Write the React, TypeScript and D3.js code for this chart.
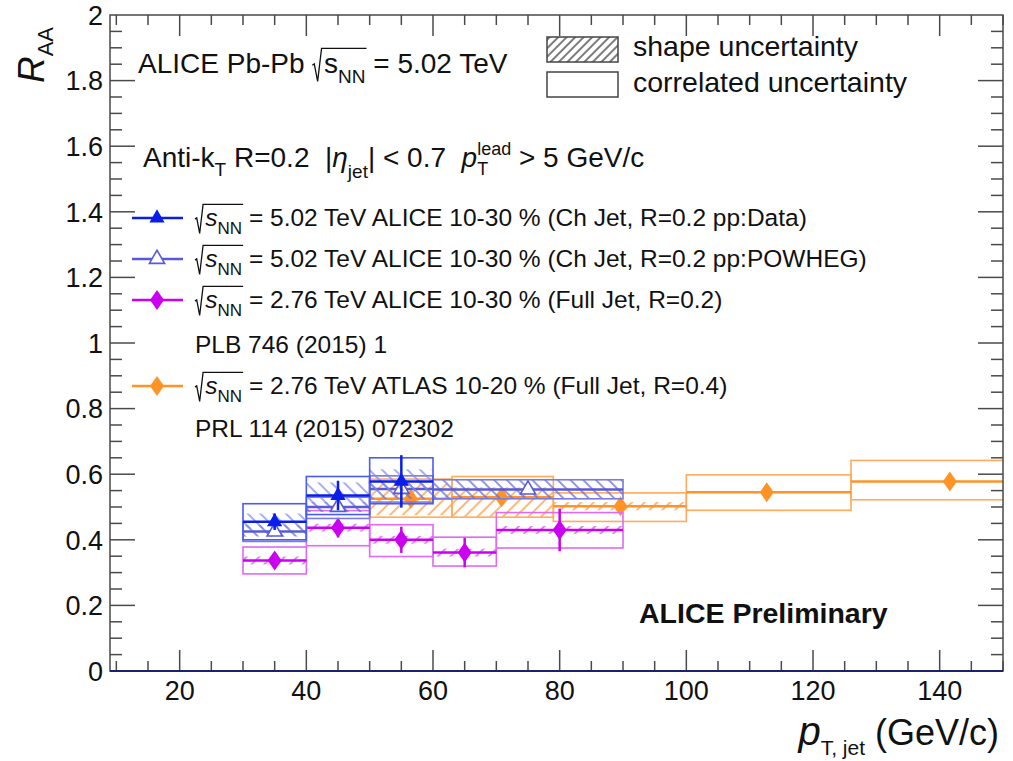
import React, { useEffect, useRef } from 'react';
import * as d3 from 'd3';

const WIDTH = 1013;
const HEIGHT = 761;
const FRAME = { left: 110, right: 1003, top: 15, bottom: 671 };
const X_MIN = 9;
const X_MAX = 150;
const FONT = "'Liberation Sans', Arial, Helvetica, sans-serif";

// ALICE 5.02 TeV 10-30%, ch jets, pp ref from data
const BLUE_LO = [30, 40, 50];
const BLUE_HI = [40, 50, 60];
const BLUE_X = [35, 45, 55];
const BLUE_VAL = [0.455, 0.535, 0.578];
const BLUE_STAT = [0.025, 0.045, 0.08];
const BLUE_SHAPE_LO = [0.435, 0.51, 0.55];
const BLUE_SHAPE_HI = [0.48, 0.575, 0.615];
const BLUE_CORR_LO = [0.40, 0.477, 0.51];
const BLUE_CORR_HI = [0.51, 0.593, 0.65];

// ALICE 5.02 TeV 10-30%, ch jets, pp ref from POWHEG
const SLATE_LO = [30, 40, 50, 60];
const SLATE_HI = [40, 50, 60, 90];
const SLATE_X = [35, 45, 55, 75];
const SLATE_VAL = [0.425, 0.50, 0.555, 0.553];
const SLATE_STAT = [0.01, 0.01, 0.01, 0.01];
const SLATE_SHAPE_LO = [0.41, 0.485, 0.525, 0.525];
const SLATE_SHAPE_HI = [0.445, 0.515, 0.575, 0.583];
const SLATE_CORR_LO = [0.395, 0.465, 0.515, 0.525];
const SLATE_CORR_HI = [0.455, 0.53, 0.595, 0.583];

// ALICE 2.76 TeV 10-30%, full jets
const MAG_LO = [30, 40, 50, 60, 70];
const MAG_HI = [40, 50, 60, 70, 90];
const MAG_X = [35, 45, 55, 65, 80];
const MAG_VAL = [0.337, 0.437, 0.40, 0.361, 0.43];
const MAG_STAT = [0.015, 0.03, 0.04, 0.045, 0.065];
const MAG_SHAPE_LO = [0.325, 0.425, 0.388, 0.349, 0.418];
const MAG_SHAPE_HI = [0.349, 0.449, 0.412, 0.373, 0.442];
const MAG_CORR_LO = [0.296, 0.382, 0.349, 0.32, 0.375];
const MAG_CORR_HI = [0.378, 0.489, 0.446, 0.408, 0.483];

// ATLAS 2.76 TeV 10-20%, R=0.4
const ORA_LO = [50, 63, 79, 100, 126];
const ORA_HI = [63, 79, 100, 126, 158];
const ORA_X = [56.5, 70.8, 89.6, 112.7, 141.6];
const ORA_VAL = [0.525, 0.53, 0.502, 0.545, 0.578];
const ORA_STAT = [0.01, 0.01, 0.01, 0.01, 0.01];
const ORA_SHAPE_LO = [0.475, 0.47, 0.49, 0.545, 0.578];
const ORA_SHAPE_HI = [0.57, 0.56, 0.515, 0.545, 0.578];
const ORA_CORR_LO = [0.469, 0.469, 0.456, 0.49, 0.522];
const ORA_CORR_HI = [0.585, 0.593, 0.543, 0.598, 0.642];

const X_MAJOR = [20, 40, 60, 80, 100, 120, 140];
const Y_MAJOR = [0, 0.2, 0.4, 0.6, 0.8, 1, 1.2, 1.4, 1.6, 1.8, 2];

const LEGEND_ROWS = [
    "5.02 TeV ALICE 10-30 % (Ch Jet, R=0.2 pp:Data)",
    "5.02 TeV ALICE 10-30 % (Ch Jet, R=0.2 pp:POWHEG)",
    "2.76 TeV ALICE 10-30 % (Full Jet, R=0.2)",
    "2.76 TeV ATLAS 10-20 % (Full Jet, R=0.4)",
];
const LEGEND_REFS = ["PLB 746 (2015) 1", "PRL 114 (2015) 072302"];

function build(lo, hi, xs, val, stat, sLo, sHi, cLo, cHi) {
    return lo.map((l, i) => ({
        lo: l, hi: hi[i], x: xs[i], val: val[i], stat: stat[i],
        sLo: sLo[i], sHi: sHi[i], cLo: cLo[i], cHi: cHi[i],
    }));
}

const DIAMOND = "M0,-10L7,0L0,10L-7,0Z";

// draws a run of text pieces one after another, returns the width
function rich(g, parts, base) {
    let cx = 0;
    let sqrtX = 0;
    for (const p of parts) {
        if (p.sqrt) {
            sqrtX = cx;
            cx += base * 0.42;
            continue;
        }
        if (p.endSqrt) {
            const h = base;
            g.append("path")
                .attr("d", `M${sqrtX},${-0.28 * h}L${sqrtX + 0.07 * h},${-0.33 * h}L${sqrtX + 0.19 * h},${0.3 * h}L${sqrtX + 0.33 * h},${-0.88 * h}L${cx + 1},${-0.88 * h}`)
                .attr("fill", "none").attr("stroke", "#111").attr("stroke-width", 1.3);
            continue;
        }
        if (p.stack) {
            const s = p.size || base * 0.62;
            const a = g.append("text").attr("x", cx).attr("y", -0.42 * base)
                .attr("font-size", s).text(p.stack[0]);
            const b = g.append("text").attr("x", cx).attr("y", 0.3 * base)
                .attr("font-size", s).text(p.stack[1]);
            cx += Math.max(a.node().getComputedTextLength(), b.node().getComputedTextLength());
            continue;
        }
        const el = g.append("text")
            .attr("x", cx).attr("y", p.dy || 0)
            .attr("font-size", p.size || base)
            .attr("font-style", p.italic ? "italic" : "normal")
            .attr("font-weight", p.bold ? "bold" : "normal")
            .style("white-space", "pre")
            .text(p.t);
        cx += el.node().getComputedTextLength();
    }
    return cx;
}

export default function App() {
    const ref = useRef(null);

    useEffect(() => {
        const svg = d3.select(ref.current);
        svg.selectAll("*").remove();
        svg.attr("font-family", FONT).attr("fill", "#111");

        const x = d3.scaleLinear().domain([X_MIN, X_MAX]).range([FRAME.left, FRAME.right]);
        const y = d3.scaleLinear().domain([0, 2]).range([FRAME.bottom, FRAME.top]);

        const defs = svg.append("defs");
        defs.append("clipPath").attr("id", "plotArea").append("rect")
            .attr("x", FRAME.left).attr("y", FRAME.top)
            .attr("width", FRAME.right - FRAME.left).attr("height", FRAME.bottom - FRAME.top);

        const hatch = (id, color, angle, gap) => {
            const p = defs.append("pattern").attr("id", id)
                .attr("patternUnits", "userSpaceOnUse")
                .attr("width", gap).attr("height", gap)
                .attr("patternTransform", `rotate(${angle})`);
            p.append("line").attr("x1", 1).attr("x2", 1).attr("y1", 0).attr("y2", gap)
                .attr("stroke", color).attr("stroke-width", 1.4);
        };
        hatch("hBlue", "#7d8cf0", -45, 9);
        hatch("hSlate", "#6a6ad0", -45, 9);
        hatch("hMag", "#d050f0", 45, 9);
        hatch("hOra", "#ff9a40", 45, 9);
        hatch("hLeg", "#444", 45, 6);

        const STYLES = [
            { data: build(ORA_LO, ORA_HI, ORA_X, ORA_VAL, ORA_STAT, ORA_SHAPE_LO, ORA_SHAPE_HI, ORA_CORR_LO, ORA_CORR_HI), col: "#ff9326", box: "#ffaa5c", pat: "hOra", marker: "diamond" },
            { data: build(MAG_LO, MAG_HI, MAG_X, MAG_VAL, MAG_STAT, MAG_SHAPE_LO, MAG_SHAPE_HI, MAG_CORR_LO, MAG_CORR_HI), col: "#cc00f0", box: "#de6af6", pat: "hMag", marker: "diamond" },
            { data: build(SLATE_LO, SLATE_HI, SLATE_X, SLATE_VAL, SLATE_STAT, SLATE_SHAPE_LO, SLATE_SHAPE_HI, SLATE_CORR_LO, SLATE_CORR_HI), col: "#5a5ad6", box: "#7a7ae0", pat: "hSlate", marker: "open" },
            { data: build(BLUE_LO, BLUE_HI, BLUE_X, BLUE_VAL, BLUE_STAT, BLUE_SHAPE_LO, BLUE_SHAPE_HI, BLUE_CORR_LO, BLUE_CORR_HI), col: "#0a1ee8", box: "#4a5cf2", pat: "hBlue", marker: "filled" },
        ];

        const plot = svg.append("g").attr("clip-path", "url(#plotArea)");
        const tri = d3.symbol(d3.symbolTriangle, 100)();

        const drawMarker = (g, kind, col, cx, cy) => {
            if (kind === "diamond") {
                g.append("path").attr("d", DIAMOND).attr("transform", `translate(${cx},${cy})`).attr("fill", col);
            } else if (kind === "filled") {
                g.append("path").attr("d", tri).attr("transform", `translate(${cx},${cy})`).attr("fill", col);
            } else {
                g.append("path").attr("d", tri).attr("transform", `translate(${cx},${cy})`)
                    .attr("fill", "#fff").attr("stroke", col).attr("stroke-width", 1.6);
            }
        };

        STYLES.forEach(s => {
            const g = plot.append("g");
            g.selectAll(".shape").data(s.data.filter(d => d.sHi > d.sLo)).join("rect")
                .attr("x", d => x(d.lo)).attr("width", d => x(d.hi) - x(d.lo))
                .attr("y", d => y(d.sHi)).attr("height", d => y(d.sLo) - y(d.sHi))
                .attr("fill", `url(#${s.pat})`);
            g.selectAll(".corr").data(s.data).join("rect")
                .attr("x", d => x(d.lo)).attr("width", d => x(d.hi) - x(d.lo))
                .attr("y", d => y(d.cHi)).attr("height", d => y(d.cLo) - y(d.cHi))
                .attr("fill", "none").attr("stroke", s.box).attr("stroke-width", 1.6);
            g.selectAll(".xerr").data(s.data).join("line")
                .attr("x1", d => x(d.lo)).attr("x2", d => x(d.hi))
                .attr("y1", d => y(d.val)).attr("y2", d => y(d.val))
                .attr("stroke", s.col).attr("stroke-width", 2.5);
            g.selectAll(".yerr").data(s.data).join("line")
                .attr("x1", d => x(d.x)).attr("x2", d => x(d.x))
                .attr("y1", d => y(d.val + d.stat)).attr("y2", d => y(d.val - d.stat))
                .attr("stroke", s.col).attr("stroke-width", 2.5);
            s.data.forEach(d => drawMarker(g, s.marker, s.col, x(d.x), y(d.val)));
        });

        // frame and ticks
        const axis = svg.append("g").attr("stroke", "#4a4a4a").attr("stroke-width", 1.5);
        axis.append("rect").attr("x", FRAME.left).attr("y", FRAME.top)
            .attr("width", FRAME.right - FRAME.left).attr("height", FRAME.bottom - FRAME.top)
            .attr("fill", "none");
        const xMinor = d3.range(10, 151, 5);
        xMinor.forEach(v => {
            const len = v % 20 === 0 ? 21 : 10;
            axis.append("line").attr("x1", x(v)).attr("x2", x(v)).attr("y1", FRAME.bottom).attr("y2", FRAME.bottom - len);
            axis.append("line").attr("x1", x(v)).attr("x2", x(v)).attr("y1", FRAME.top).attr("y2", FRAME.top + len);
        });
        const yMinor = d3.range(0, 40).map(i => i * 0.05);
        yMinor.forEach((v, i) => {
            const len = i % 4 === 0 ? 25 : 12;
            axis.append("line").attr("y1", y(v)).attr("y2", y(v)).attr("x1", FRAME.left).attr("x2", FRAME.left + len);
            axis.append("line").attr("y1", y(v)).attr("y2", y(v)).attr("x1", FRAME.right).attr("x2", FRAME.right - len);
        });
        svg.append("line").attr("x1", FRAME.left).attr("x2", FRAME.right)
            .attr("y1", FRAME.bottom).attr("y2", FRAME.bottom)
            .attr("stroke", "#1c2070").attr("stroke-width", 2.2);

        svg.append("g").selectAll("text").data(X_MAJOR).join("text")
            .attr("x", d => x(d)).attr("y", 700).attr("text-anchor", "middle")
            .attr("font-size", 27).text(d => d);
        svg.append("g").selectAll("text").data(Y_MAJOR).join("text")
            .attr("x", 103).attr("y", d => y(d)).attr("dy", "0.36em").attr("text-anchor", "end")
            .attr("font-size", 27).text(d => String(Math.round(d * 10) / 10));

        // axis titles
        const xt = svg.append("g");
        const xw = rich(xt, [
            { t: "p", italic: true, size: 40 },
            { t: "T, jet", size: 21, dy: 10 },
            { t: " (GeV/c)", size: 36 },
        ], 36);
        xt.attr("transform", `translate(${999 - xw},745)`);

        const yt = svg.append("g");
        const yw = rich(yt, [
            { t: "R", italic: true, size: 37 },
            { t: "AA", size: 22, dy: 9 },
        ], 37);
        yt.attr("transform", `translate(44,${27 + yw}) rotate(-90)`);

        // header texts
        rich(svg.append("g").attr("transform", "translate(138,73)"), [
            { t: "ALICE Pb-Pb " }, { sqrt: true }, { t: "s" }, { t: "NN", size: 19, dy: 10 }, { endSqrt: true },
            { t: " = 5.02 TeV" },
        ], 28);
        rich(svg.append("g").attr("transform", "translate(143,167)"), [
            { t: "Anti-k" }, { t: "T", size: 19, dy: 9 }, { t: " R=0.2  |" },
            { t: "η", italic: true }, { t: "jet", size: 19, dy: 11 }, { t: "| < 0.7  " },
            { t: "p", italic: true }, { stack: ["lead", "T"], size: 18 }, { t: " > 5 GeV/c" },
        ], 28);

        // uncertainty legend
        svg.append("rect").attr("x", 547).attr("y", 37).attr("width", 71).attr("height", 25)
            .attr("fill", "url(#hLeg)").attr("stroke", "#444").attr("stroke-width", 1.5);
        svg.append("rect").attr("x", 547).attr("y", 72).attr("width", 71).attr("height", 25)
            .attr("fill", "none").attr("stroke", "#444").attr("stroke-width", 1.5);
        svg.append("text").attr("x", 633).attr("y", 56).attr("font-size", 28.5).text("shape uncertainty");
        svg.append("text").attr("x", 633).attr("y", 92).attr("font-size", 28.5).text("correlated uncertainty");

        // series legend
        const rowY = [226, 267, 308, 394];
        const legStyles = [STYLES[3], STYLES[2], STYLES[1], STYLES[0]];
        LEGEND_ROWS.forEach((label, i) => {
            const st = legStyles[i];
            const ly = rowY[i] - 8;
            svg.append("line").attr("x1", 132).attr("x2", 183).attr("y1", ly).attr("y2", ly)
                .attr("stroke", st.col).attr("stroke-width", 2.5);
            drawMarker(svg, st.marker, st.col, 157, ly);
            rich(svg.append("g").attr("transform", `translate(195,${rowY[i]})`), [
                { sqrt: true }, { t: "s", italic: true }, { t: "NN", size: 17, dy: 8 }, { endSqrt: true },
                { t: " = " + label },
            ], 24.5);
        });
        svg.append("text").attr("x", 195).attr("y", 353).attr("font-size", 24.5).text(LEGEND_REFS[0]);
        svg.append("text").attr("x", 195).attr("y", 437).attr("font-size", 24.5).text(LEGEND_REFS[1]);

        svg.append("text").attr("x", 639).attr("y", 623).attr("font-size", 28.5)
            .attr("font-weight", "bold").text("ALICE Preliminary");

        return () => { svg.selectAll("*").remove(); };
    }, []);

    return (
        <svg ref={ref} width={WIDTH} height={HEIGHT}
            style={{ position: "absolute", left: 0, top: 0, background: "#fff" }} />
    );
}
